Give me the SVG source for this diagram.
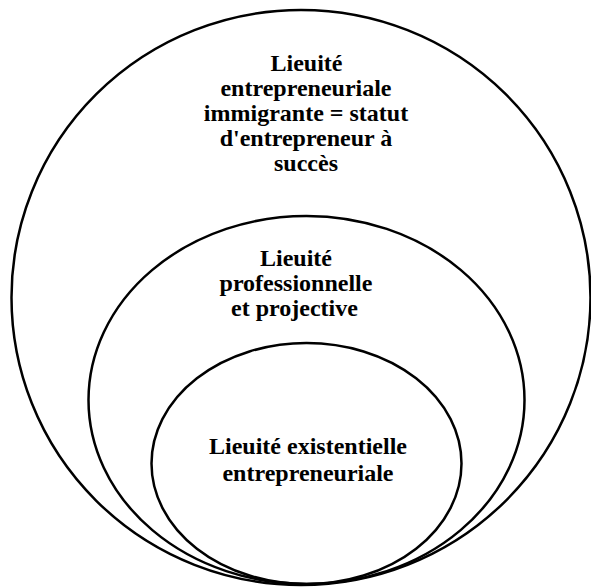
<svg xmlns="http://www.w3.org/2000/svg" width="591" height="587" viewBox="0 0 591 587">
<style>
.ring{fill:none;stroke:#000;stroke-width:2.5}
.lbl{font-family:"Liberation Serif","Times New Roman",serif;font-weight:bold;font-size:24px;fill:#000;text-anchor:middle}
</style>
<rect width="591" height="587" fill="#fff"/>
<g id="outer">
<ellipse class="ring" cx="301" cy="297.5" rx="289.5" ry="287.5"/>
<text class="lbl" x="306.5" y="70.5">Lieuité</text>
<text class="lbl" x="306" y="95.5">entrepreneuriale</text>
<text class="lbl" x="306" y="120.5">immigrante = statut</text>
<text class="lbl" x="306" y="146">d'entrepreneur à</text>
<text class="lbl" x="306" y="170.5">succès</text>
</g>
<g id="middle">
<ellipse class="ring" cx="306.5" cy="400" rx="218" ry="184"/>
<text class="lbl" x="296" y="266">Lieuité</text>
<text class="lbl" x="296" y="290.5">professionnelle</text>
<text class="lbl" x="294.5" y="315.5">et projective</text>
</g>
<g id="inner">
<ellipse class="ring" cx="306.5" cy="463.5" rx="155" ry="120.5"/>
<text class="lbl" x="308" y="454">Lieuité existentielle</text>
<text class="lbl" x="308" y="480.5">entrepreneuriale</text>
</g>
<g id="connectors"/>
</svg>
